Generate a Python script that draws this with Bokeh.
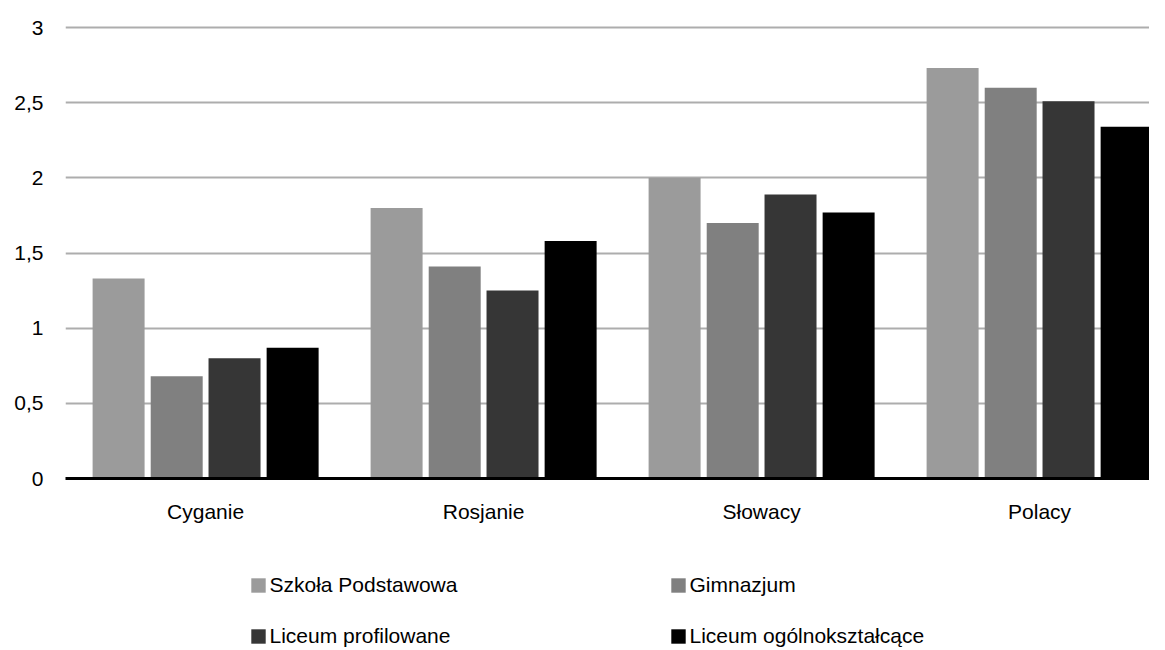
from bokeh.plotting import figure
from bokeh.layouts import column
from bokeh.models import (Range1d, FixedTicker, CustomJSTickFormatter, Legend,
                          LegendItem, ColumnDataSource)
from bokeh.transform import dodge
from bokeh.embed import file_html
from bokeh.resources import INLINE

categories = ["Cyganie", "Rosjanie", "Słowacy", "Polacy"]
szkola_podstawowa = [1.33, 1.80, 2.00, 2.73]
gimnazjum = [0.68, 1.41, 1.70, 2.60]
liceum_profilowane = [0.80, 1.25, 1.89, 2.51]
liceum_ogolnoksztalcace = [0.87, 1.58, 1.77, 2.34]
series_names = ["Szkoła Podstawowa", "Gimnazjum", "Liceum profilowane",
                "Liceum ogólnokształcące"]
y_ticks = [0, 0.5, 1, 1.5, 2, 2.5, 3]

FONT = "Liberation Sans"
colors = ["#9b9b9b", "#808080", "#363636", "#000000"]
offsets = [-0.313, -0.104, 0.104, 0.313]
bar_w = 0.187

source = ColumnDataSource(dict(
    x=list(range(len(categories))),
    sp=szkola_podstawowa, gim=gimnazjum, lp=liceum_profilowane,
    lo=liceum_ogolnoksztalcace,
))
fields = ["sp", "gim", "lp", "lo"]

W = 1149
H1, H2 = 540, 110
LEFT = 65
frame_w = W - LEFT
x0 = -0.504

p = figure(width=W, height=H1, output_backend="svg", toolbar_location=None,
           x_range=Range1d(x0, x0 + frame_w / 278), y_range=Range1d(0, 3.1),
           min_border_left=LEFT, min_border_right=0, min_border_top=12,
           min_border_bottom=H1 - 478)
p.outline_line_color = None
p.background_fill_color = "white"
p.border_fill_color = "white"

for f, off, c in zip(fields, offsets, colors):
    p.vbar(x=dodge("x", off, range=p.x_range), top=f, width=bar_w, bottom=0,
           source=source, fill_color=c, line_color=None)

# axes
p.xaxis.ticker = FixedTicker(ticks=list(range(len(categories))))
p.xaxis.formatter = CustomJSTickFormatter(args=dict(cats=categories),
                                          code="return cats[Math.round(tick)];")
p.xaxis.axis_line_color = "black"
p.xaxis.axis_line_width = 3
p.xaxis.major_tick_line_color = None
p.xaxis.minor_tick_line_color = None
p.xaxis.major_label_text_font = FONT
p.xaxis.major_label_text_font_size = "21px"
p.xaxis.major_label_text_color = "black"
p.xaxis.major_label_standoff = 15

p.yaxis.ticker = FixedTicker(ticks=y_ticks)
p.yaxis.formatter = CustomJSTickFormatter(code="return String(tick).replace('.', ',');")
p.yaxis.axis_line_color = None
p.yaxis.major_tick_line_color = None
p.yaxis.minor_tick_line_color = None
p.yaxis.major_label_text_font = FONT
p.yaxis.major_label_text_font_size = "21px"
p.yaxis.major_label_text_color = "black"
p.yaxis.major_label_standoff = 16

p.xgrid.grid_line_color = None
p.ygrid.grid_line_color = "#adadad"
p.ygrid.grid_line_width = 2
p.ygrid.ticker = FixedTicker(ticks=y_ticks[1:])

# legend figure (its bars lie outside its y range; only the legend shows)
lg = figure(width=W, height=H2, output_backend="svg", toolbar_location=None,
            x_range=Range1d(0, 1), y_range=Range1d(100, 101),
            min_border_left=0, min_border_right=0, min_border_top=0,
            min_border_bottom=0, x_axis_location=None, y_axis_location=None)
lg.outline_line_color = None
lg.xgrid.visible = False
lg.ygrid.visible = False
lg_renderers = [lg.vbar(x="x", top=f, width=0.1, source=source, fill_color=c,
                        line_color=None)
                for f, c in zip(fields, colors)]

# legend fills column by column: order items so rows read SP, Gim / LP, LO
order = [0, 2, 1, 3]
legend = Legend(
    items=[LegendItem(label=series_names[i], renderers=[lg_renderers[i]]) for i in order],
    ncols=2, location=(183.5, 2), orientation="vertical",
    glyph_width=18, glyph_height=18, label_standoff=3, spacing=27,
    label_width=372, label_height=18, padding=0, margin=0,
    border_line_color=None, background_fill_alpha=0,
    label_text_font=FONT, label_text_font_size="21px", label_text_color="black",
)
lg.add_layout(legend, "center")

layout = column(p, lg, spacing=0)
open("out.html", "w").write(file_html(layout, INLINE))
